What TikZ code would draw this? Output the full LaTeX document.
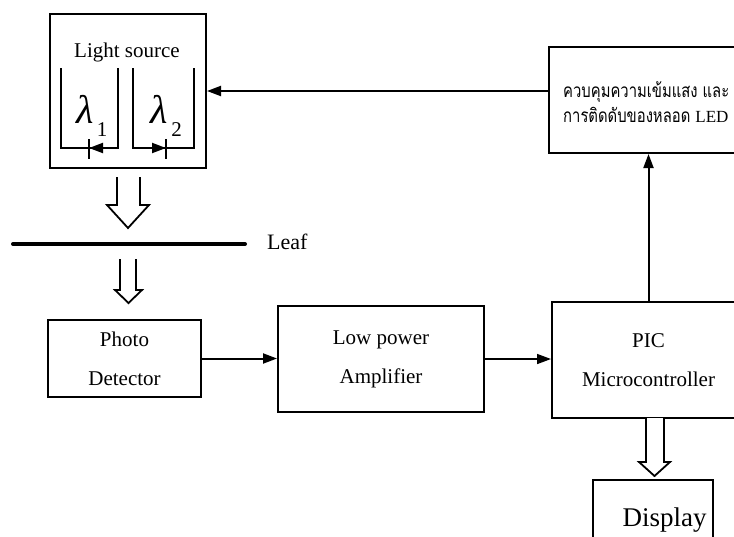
\documentclass[tikz,border=0pt]{standalone}
\usepackage{fontspec}
\setmainfont{Liberation Serif}
\newfontfamily\thaifont[Script=Thai,FakeStretch=0.78]{Loma}
\usetikzlibrary{arrows.meta}
\usetikzlibrary{positioning}

\begin{document}
\begin{tikzpicture}[x=1pt,y=-1pt,
    box/.style={draw,line width=2pt,inner sep=0pt,align=center,font=\fontsize{21}{39}\selectfont},
    sig/.style={line width=2pt,-{Triangle[length=14pt,width=10pt]}},
    fat/.style={draw,line width=1.8pt,fill=white,line join=miter},
    cup/.style={line width=2pt}]
    \useasboundingbox (0,0) rectangle (734,536);

    % blocks
    \node[box,minimum width=156,minimum height=154] (src) at (128,91) {};
    \node[font=\fontsize{21}{21}\selectfont,anchor=base] (srctext) at (127,57) {Light source};
    \node[box,minimum width=196,minimum height=106] (ctrl) at (647,100) {};
    \node[font=\thaifont\fontsize{19}{19}\selectfont,anchor=base west,inner sep=0pt] (ctrlone) at (563,97) {ควบคุมความเข้มแสง และ};
    \node[font=\thaifont\fontsize{19}{19}\selectfont,anchor=base west,inner sep=0pt] (ctrltwo) at (563,122) {การติดดับของหลอด {\rmfamily\fontsize{17}{17}\selectfont LED}};
    \node[box,minimum width=153,minimum height=77] (pd) at (124.5,358.5) {Photo\\Detector};
    \node[box,minimum width=206,minimum height=106] (amp) at (381,359) {Low power\\Amplifier};
    \node[box,minimum width=193,minimum height=116] (pic) at (648.5,360) {PIC\\Microcontroller};
    \node[box,minimum width=120,minimum height=80] (disp) at (653,520) {};
    \node[font=\fontsize{27}{27}\selectfont,anchor=base] (disptext) at (664.5,526) {Display};

    % two LEDs
    \draw[cup] (61,68) -- (61,148) -- (118,148) -- (118,68);
    \draw[cup] (133,68) -- (133,148) -- (194,148) -- (194,68);
    \draw[cup] (89,139) -- (89,159);
    \draw[cup] (166,139) -- (166,159);
    \draw[sig] (104,148) -- (89,148);
    \draw[sig] (151,148) -- (166,148);
    \node[font=\fontsize{40}{40}\selectfont\itshape,anchor=base] (lamone) at (85.5,123) {λ};
    \node[font=\fontsize{21}{21}\selectfont,anchor=base] (subone) at (102,136) {1};
    \node[font=\fontsize{40}{40}\selectfont\itshape,anchor=base] (lamtwo) at (159.5,123) {λ};
    \node[font=\fontsize{21}{21}\selectfont,anchor=base] (subtwo) at (176.5,136) {2};

    % leaf
    \coordinate (leafL) at (13,244);
    \coordinate (leafR) at (245,244);
    \draw[line width=4pt,line cap=round] (leafL) -- (leafR);
    \node[font=\fontsize{22}{22}\selectfont,anchor=base west,inner sep=0pt] (leaf) at (267,249) {Leaf};

    % light paths
    \path[fat] (117,177) -- (117,205) -- (107,205) -- (128,228) -- (149,205) -- (140,205) -- (140,177);
    \path[fat] (120,259) -- (120,290) -- (115,290) -- (128.5,303) -- (142,290) -- (136,290) -- (136,259);
    \path[fat] (646,418) -- (646,462) -- (639,462) -- (654.5,476) -- (670,462) -- (664,462) -- (664,418);

    % signals
    \draw[sig] (ctrl.west |- src.east) -- (src.east);
    \draw[sig] (pd.east) -- (pd.east -| amp.west);
    \draw[sig,line width=1.5pt] (amp.east) -- (amp.east -| pic.west);
    \draw[sig] (pic.north) -- (pic.north |- ctrl.south);
\end{tikzpicture}
\end{document}
